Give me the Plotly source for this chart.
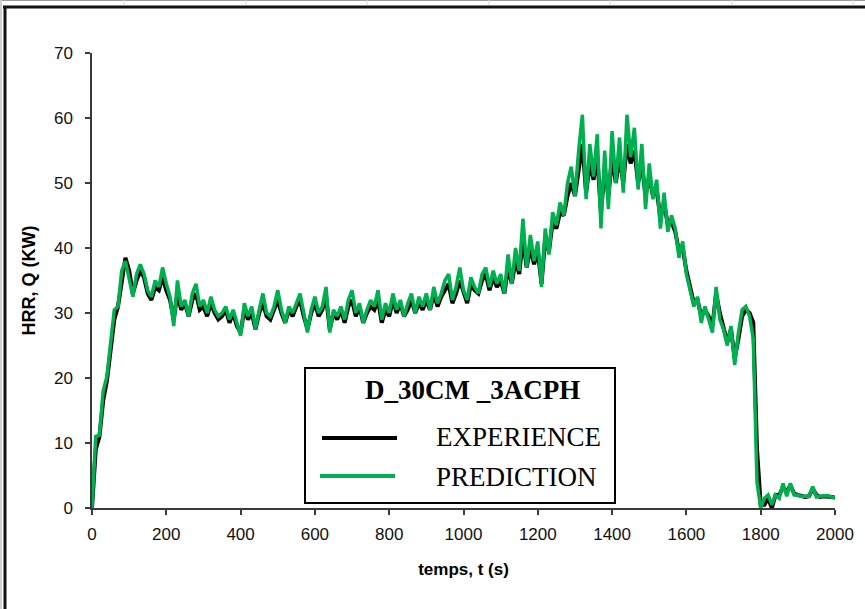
import plotly.graph_objects as go

# Heat release rate, sampled every 10 s
t_s = list(range(0, 2001, 10))

hrr_experience = [
    0, 9, 11, 16.5, 19.5, 24, 29, 31, 35, 38.5,
    36.5, 33, 35, 36.5, 35.5, 33, 32, 34, 33.5, 35.5,
    33.5, 32, 29, 33, 30.5, 31.5, 29.5, 32, 33, 30.5,
    31, 29.5, 31.5, 30, 29, 29.5, 30.5, 28.5, 30, 28,
    27, 30.5, 29, 30, 27.5, 30, 31.5, 29.5, 29, 30.5,
    32, 30, 28.5, 30.5, 29.5, 31, 32, 29.5, 27.5, 30,
    31.5, 29.5, 30.5, 32.5, 27.5, 30, 29, 30.5, 28.5, 31,
    32, 29.5, 31, 28.5, 30, 31, 30.5, 32, 28.5, 30.5,
    29.5, 32, 30, 31.5, 29.5, 30.5, 32, 30, 31.5, 30.5,
    32, 30.5, 33, 31, 32.5, 33.5, 34.5, 31.5, 33, 35,
    33, 31.5, 34.5, 33.5, 33, 35, 36, 33.5, 35.5, 34,
    35, 33, 37, 34.5, 38, 36, 41.5, 37, 40, 37.5,
    39.5, 34.5, 41.5, 39.5, 44, 43, 45.5, 45, 48, 50,
    48, 52, 56, 48.5, 53, 50.5, 54, 45.5, 52, 48,
    54, 50, 54, 50, 56, 53, 55, 50, 53, 48,
    51, 48, 49, 44.5, 47, 43.5, 44, 42.5, 39.5, 40,
    36.5, 34, 31.5, 32, 29.5, 30.5, 29.5, 28, 33, 30,
    28, 25.5, 27.5, 23, 26, 29.5, 30.5, 30, 28.5, 9,
    0.5, 0.5, 1.5, 0, 2, 2, 3.2, 2.5, 3.5, 2.2,
    2, 1.8, 1.7, 1.8, 3, 2, 1.7, 1.8, 1.8, 1.7,
    1.6,
]

hrr_prediction = [
    0, 11, 11.2, 18, 20.2, 25, 30.5, 31, 36.5, 38,
    35.5, 32.5, 36, 37.5, 36, 33.5, 32.5, 35, 34, 37,
    34.5, 32.5, 28, 35, 31, 32, 29.5, 33, 34.5, 31,
    32, 30, 32.5, 30.5, 29.5, 30, 31, 29, 30.5, 28.5,
    26.5, 31.5, 29.5, 31, 27.5, 30.5, 33, 30, 29.5, 31,
    33.5, 30.5, 28.5, 31, 30, 31.5, 33, 30, 27, 30.5,
    32.5, 30, 31, 34, 27, 30.5, 29.5, 31, 29, 32,
    33.5, 30, 31.5, 28.5, 30.5, 32, 31, 33.5, 29, 31.5,
    30, 33, 30.5, 32, 29.5, 31.5, 33, 30, 32.5, 31,
    33, 30.5, 34, 31.5, 33, 35, 36, 32, 34, 37,
    33.5, 32, 35.5, 34, 33, 36, 37, 34, 36.5, 34.5,
    36, 33, 39, 34.5, 40, 36.5, 44.5, 37, 42, 38,
    41, 34, 43, 39, 45.5, 43.5, 47, 45, 50, 52.5,
    48, 55, 60.5, 47.5, 56, 51, 57.5, 43, 55, 46,
    58, 50, 57, 48.5, 60.5, 54, 58.5, 49, 56, 46,
    53, 47.5, 50.5, 43, 48.5, 42.5, 45, 43, 38.5, 41,
    36, 33.5, 31, 32.5, 28.5, 31, 29, 27, 34, 29,
    27.5, 25, 28, 22, 27, 30.5, 31, 29.5, 26, 4,
    0, 1.5, 2, 0.5, 2, 1.5, 3.8, 1.8, 3.8, 2,
    2, 1.8, 1.8, 1.8, 3.3, 1.7, 1.8, 1.8, 1.9, 1.7,
    1.6,
]

x_ticks = [0, 200, 400, 600, 800, 1000, 1200, 1400, 1600, 1800, 2000]
y_ticks = [0, 10, 20, 30, 40, 50, 60, 70]

legend_title = "D_30CM _3ACPH"
series_names = ["EXPERIENCE", "PREDICTION"]

BLACK = "#000000"
GREEN = "#00B050"
AXIS = "#3a3a3a"

W, H = 865, 609
PL, PR, PT, PB = 92, 835, 53, 508  # plot area in pixels


def fx(p):
    return (p - PL) / (PR - PL)


def fy(p):
    return (PB - p) / (PB - PT)


fig = go.Figure()
fig.add_trace(go.Scatter(x=t_s, y=hrr_experience, mode="lines", name=series_names[0],
                         line=dict(color=BLACK, width=4), showlegend=False))
fig.add_trace(go.Scatter(x=t_s, y=hrr_prediction, mode="lines", name=series_names[1],
                         line=dict(color=GREEN, width=3.5), showlegend=False))

shapes = []
# outer sheet frame and grid hints along the top edge
shapes.append(dict(type="line", xref="paper", yref="paper", x0=fx(0), x1=fx(W), y0=fy(0.5), y1=fy(0.5),
                   line=dict(color="#9a9a9a", width=1)))
for gx in [124, 246, 367, 489, 610, 732, 853]:
    shapes.append(dict(type="line", xref="paper", yref="paper", x0=fx(gx), x1=fx(gx), y0=fy(0), y1=fy(5),
                       line=dict(color="#d8d8d8", width=1)))
shapes.append(dict(type="line", xref="paper", yref="paper", x0=fx(1), x1=fx(1), y0=fy(0), y1=fy(H),
                   line=dict(color="#d0d0d0", width=2)))
shapes.append(dict(type="line", xref="paper", yref="paper", x0=fx(3), x1=fx(W + 2), y0=fy(7), y1=fy(7),
                   line=dict(color="#111111", width=3)))
shapes.append(dict(type="line", xref="paper", yref="paper", x0=fx(5), x1=fx(5), y0=fy(6), y1=fy(H + 2),
                   line=dict(color="#111111", width=3)))

# legend box
shapes.append(dict(type="rect", xref="paper", yref="paper", x0=fx(305), x1=fx(615), y0=fy(503), y1=fy(368),
                   line=dict(color=BLACK, width=2), fillcolor="white", layer="above"))
shapes.append(dict(type="line", xref="paper", yref="paper", x0=fx(322), x1=fx(397), y0=fy(438), y1=fy(438),
                   line=dict(color=BLACK, width=4), layer="above"))
shapes.append(dict(type="line", xref="paper", yref="paper", x0=fx(320), x1=fx(395), y0=fy(476), y1=fy(476),
                   line=dict(color=GREEN, width=4), layer="above"))

serif = "Liberation Serif, Times New Roman, serif"
annotations = [
    dict(text="<b>" + legend_title + "</b>", xref="paper", yref="paper", x=fx(472), y=fy(390),
         xanchor="center", yanchor="middle", showarrow=False, font=dict(family=serif, size=27, color=BLACK)),
    dict(text=series_names[0], xref="paper", yref="paper", x=fx(434), y=fy(437),
         xanchor="left", yanchor="middle", showarrow=False, font=dict(family=serif, size=27, color=BLACK)),
    dict(text=series_names[1], xref="paper", yref="paper", x=fx(434), y=fy(477),
         xanchor="left", yanchor="middle", showarrow=False, font=dict(family=serif, size=27, color=BLACK)),
]

sans = "Liberation Sans, Arial, sans-serif"
fig.update_layout(
    width=W, height=H,
    margin=dict(l=PL, r=W - PR, t=PT, b=H - PB, pad=0),
    paper_bgcolor="white", plot_bgcolor="white",
    shapes=shapes, annotations=annotations,
    xaxis=dict(range=[0, 2000], tickvals=x_ticks, ticktext=[str(v) for v in x_ticks],
               showline=True, linecolor=AXIS, linewidth=1.5, ticks="outside", ticklen=5,
               tickcolor=AXIS, tickwidth=1.5, showgrid=False, zeroline=False,
               tickfont=dict(family=sans, size=17, color="#111111"), ticklabelstandoff=5,
               title=dict(text="<b>temps, t (s)</b>", font=dict(family=sans, size=17, color=BLACK),
                          standoff=20)),
    yaxis=dict(range=[0, 70], tickvals=y_ticks, ticktext=[str(v) for v in y_ticks],
               showline=True, linecolor=AXIS, linewidth=1.5, ticks="outside", ticklen=5,
               tickcolor=AXIS, tickwidth=1.5, showgrid=False, zeroline=False,
               tickfont=dict(family=sans, size=17, color="#111111"), ticklabelstandoff=9,
               title=dict(text="<b>HRR, Q (KW)</b>", font=dict(family=sans, size=18, color=BLACK),
                          standoff=14)),
)

fig.write_html("out.html")
